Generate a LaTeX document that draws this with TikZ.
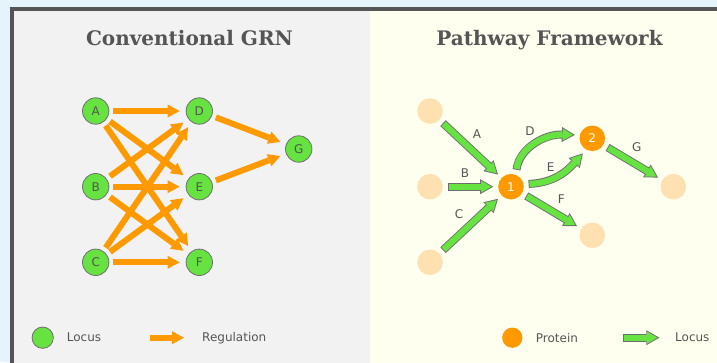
\documentclass[tikz,border=0pt]{standalone}
\usepackage{fontspec}
\setmainfont{DejaVu Serif}
\setsansfont{DejaVu Sans}
\usetikzlibrary{arrows.meta}

\definecolor{outerblue}{HTML}{E5F3FA}
\definecolor{framegray}{HTML}{555555}
\definecolor{panelgray}{HTML}{F2F2F2}
\definecolor{panelivory}{HTML}{FFFFF0}
\definecolor{textgray}{HTML}{555555}
\definecolor{locusgreen}{HTML}{66E340}
\definecolor{edgegray}{HTML}{6E6E6E}
\definecolor{protorange}{HTML}{FF9900}
\definecolor{palepeach}{HTML}{FFE0B0}

\tikzset{
  locus/.style={circle, draw=edgegray, line width=0.8pt, fill=locusgreen, minimum size=26.4pt,
    inner sep=0pt, outer sep=4.5pt, text=textgray, font=\sffamily\fontsize{12}{14}\selectfont},
  protein/.style={circle, fill=protorange, minimum size=25.6pt, inner sep=0pt, outer sep=5pt,
    text=white, font=\sffamily\fontsize{12}{14}\selectfont},
  site/.style={circle, fill=palepeach, minimum size=25.6pt, inner sep=0pt, outer sep=5pt},
  regulation/.style={draw=protorange, line width=6pt, shorten >=2pt,
    -{Triangle[length=12pt,width=13pt,line width=0pt]}},
  locusarrow/.style={draw=locusgreen, line width=6.2pt, shorten >=1.8pt, shorten <=0.9pt,
    -{Triangle[length=10.3pt,width=12pt,line width=0pt]},
    preaction={draw=edgegray, line width=8pt, shorten >=0pt, shorten <=0pt,
      -{Triangle[length=13pt,width=15pt,line width=0pt]}}},
  title/.style={anchor=base, text=textgray, font=\bfseries\fontsize{20}{24}\selectfont},
  tag/.style={text=textgray, inner sep=0pt, font=\sffamily\fontsize{12}{14}\selectfont},
  legend/.style={anchor=west, text=textgray, inner sep=0pt, font=\sffamily\fontsize{12}{14}\selectfont}
}

\begin{document}
\begin{tikzpicture}[x=1pt,y=-1pt]
\clip (0,0) rectangle (717,362);
\fill[outerblue] (0,0) rectangle (717,362);
\fill[panelgray] (12,9) rectangle (370,380);
\fill[panelivory] (370,9) rectangle (740,380);
\draw[framegray, line width=4pt] (12,9) rectangle (740,380);

\node[title] (grntitle) at (189.5,45) {Conventional GRN};
\node[title] (pathtitle) at (549.5,45) {Pathway Framework};

% conventional GRN
\node[locus] (a) at (95.7,111) {A};
\node[locus] (b) at (95.7,186.7) {B};
\node[locus] (c) at (95.7,262.3) {C};
\node[locus] (d) at (199.3,111) {D};
\node[locus] (e) at (199.3,186.7) {E};
\node[locus] (f) at (199.3,262.3) {F};
\node[locus] (g) at (298.7,149) {G};

\path[regulation] (a) -- (d);
\path[regulation] (a) -- (e);
\path[regulation] (a) -- (f);
\path[regulation] (b) -- (d);
\path[regulation] (b) -- (e);
\path[regulation] (b) -- (f);
\path[regulation] (c) -- (d);
\path[regulation] (c) -- (e);
\path[regulation] (c) -- (f);
\path[regulation] (d) -- (g);
\path[regulation] (e) -- (g);

% pathway framework
\node[site] (sa) at (430,111) {};
\node[site] (sb) at (430,186.7) {};
\node[site] (sc) at (430,262.3) {};
\node[protein] (p1) at (511,186.7) {1};
\node[protein] (p2) at (592.3,138.3) {2};
\node[site] (sf) at (592.3,235.3) {};
\node[site] (sg) at (673.3,186.7) {};

\path[locusarrow] (sa) -- (p1);
\path[locusarrow] (sb) -- (p1);
\path[locusarrow] (sc) -- (p1);
\path[locusarrow] (p1.72) .. controls (519,148) and (545,134) .. (p2.169);
\path[locusarrow] (p1.9) .. controls (555,183) and (568,170) .. (p2.238);
\path[locusarrow] (p1) -- (sf);
\path[locusarrow] (p2) -- (sg);

\node[tag] (la) at (477,134) {A};
\node[tag] (lb) at (465,173) {B};
\node[tag] (lc) at (459,214) {C};
\node[tag] (ld) at (530,131) {D};
\node[tag] (le) at (550.7,166.7) {E};
\node[tag] (lf) at (561.3,199.3) {F};
\node[tag] (lg) at (636.7,146.7) {G};

% legends
\node[locus, minimum size=21.3pt, outer sep=0pt] (keylocus) at (42.7,337.7) {};
\node[legend] (keylocustext) at (66.7,337.7) {Locus};
\coordinate (regstart) at (150,337.7);
\coordinate (regend) at (184,337.7);
\path[regulation, shorten >=0pt] (regstart) -- (regend);
\node[legend] (keyregtext) at (202,337.7) {Regulation};

\node[protein, minimum size=20.3pt, outer sep=0pt] (keyprotein) at (512.3,337.7) {};
\node[legend] (keyproteintext) at (535.7,337.7) {Protein};
\coordinate (locstart) at (622.7,337.7);
\coordinate (locend) at (659.3,337.7);
\path[locusarrow] (locstart) -- (locend);
\node[legend] (keylocitext) at (675,337.7) {Locus};
\end{tikzpicture}
\end{document}
